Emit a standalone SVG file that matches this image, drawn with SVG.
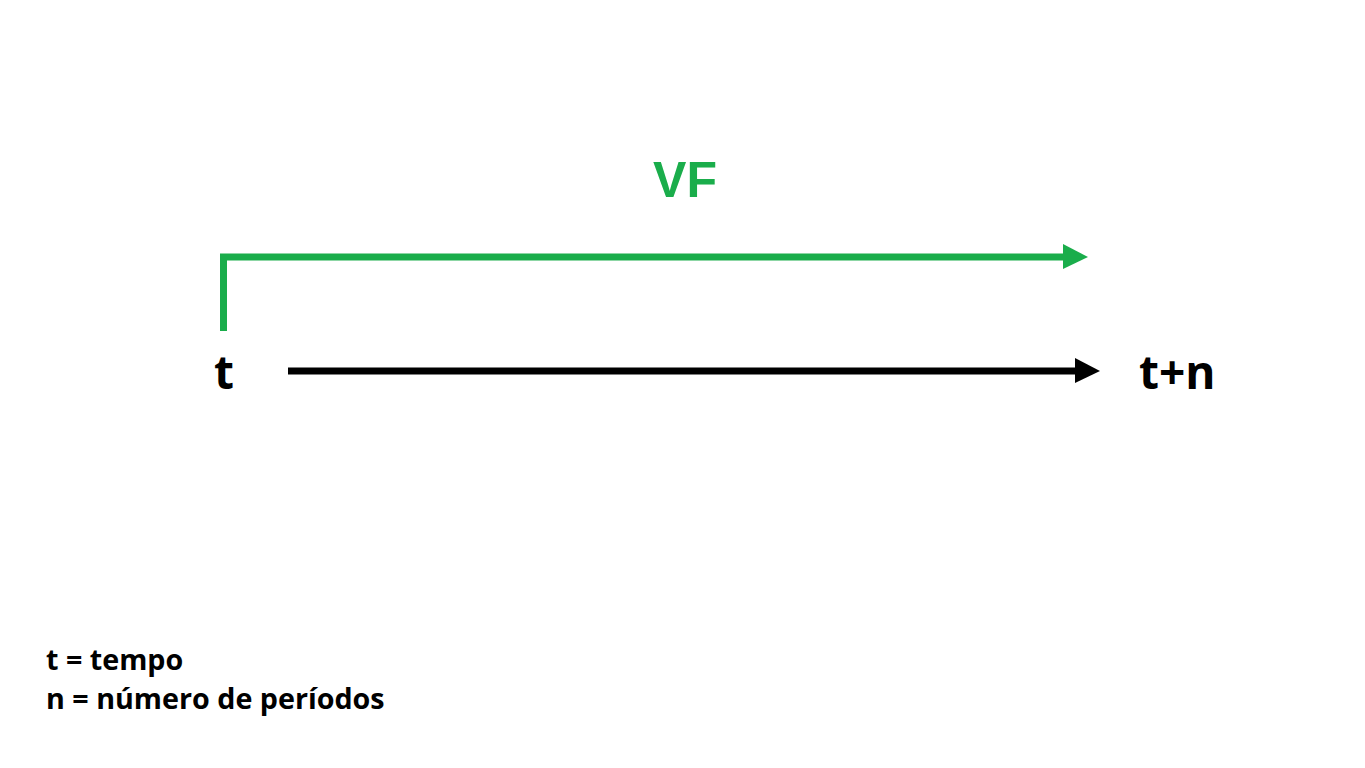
<svg xmlns="http://www.w3.org/2000/svg" width="1365" height="768" viewBox="0 0 1365 768">
<style>
.lbl{font-family:"Open Sans","Liberation Sans",sans-serif;font-weight:bold;fill:#000}
.vf{font-family:"Liberation Sans",Arial,sans-serif;font-weight:bold;fill:#1aad4b}
</style>
<rect width="1365" height="768" fill="#fff"/>
<g id="connectors">
<path d="M223.5 331 V257 H1066" fill="none" stroke="#1aad4b" stroke-width="7"/>
<polygon points="1063,244 1088,257 1063,269" fill="#1aad4b"/>
<line x1="288" y1="371" x2="1078" y2="371" stroke="#000" stroke-width="7"/>
<polygon points="1075,358 1100,371 1075,383" fill="#000"/>
</g>
<g id="node-vf"><text class="vf" x="685" y="197" font-size="50" text-anchor="middle">VF</text></g>
<g id="node-t"><text class="lbl" x="214" y="389" font-size="46">t</text></g>
<g id="node-tn"><text class="lbl" x="1139" y="389" font-size="46">t+n</text></g>
<g id="legend">
<text class="lbl" x="46" y="670" font-size="28.7">t = tempo</text>
<text class="lbl" x="46" y="709" font-size="28.7">n = número de períodos</text>
</g>
</svg>
